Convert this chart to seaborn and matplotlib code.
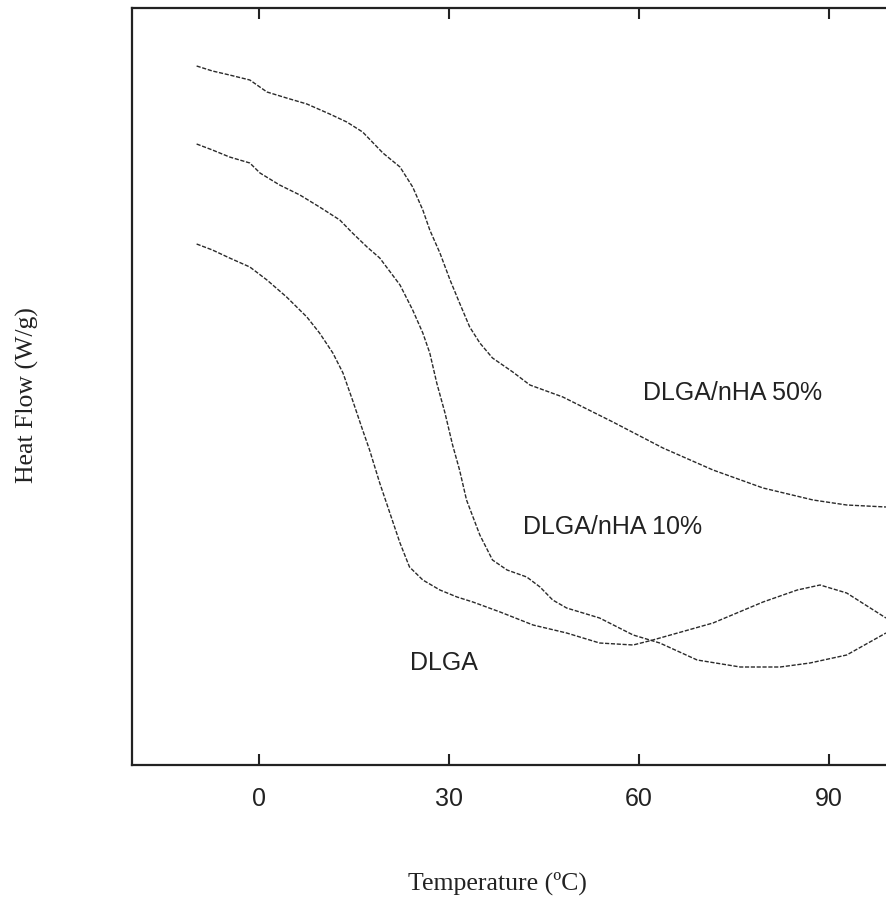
import matplotlib
matplotlib.use("Agg")
import matplotlib.pyplot as plt
import seaborn as sns
import pandas as pd

# Temperature (ºC) and heat flow (arbitrary units, no y ticks in the original)
t_50 = [-9.8, -7.3, -4.6, -1.4, 1.3, 4.4, 7.6, 11.2, 13.9, 16.4, 19.6, 22.3, 24.3, 25.9,
        27.0, 28.6, 30.2, 31.7, 33.3, 34.9, 36.9, 40.1, 42.8, 48.0, 55.9, 63.8, 71.7,
        79.6, 87.5, 92.8, 99.0]
hf_50 = [6.99, 6.94, 6.90, 6.85, 6.73, 6.67, 6.61, 6.51, 6.43, 6.33, 6.12, 5.98, 5.78, 5.55,
         5.35, 5.12, 4.85, 4.62, 4.38, 4.22, 4.07, 3.93, 3.80, 3.68, 3.43, 3.17, 2.95,
         2.77, 2.65, 2.60, 2.58]

t_10 = [-9.8, -7.3, -4.6, -1.4, 0.2, 3.3, 6.5, 9.6, 12.8, 14.8, 17.1, 19.1, 22.3, 24.3,
        25.9, 27.0, 28.1, 29.4, 30.6, 31.7, 32.8, 34.9, 36.9, 39.2, 42.3, 44.4, 46.4,
        48.6, 53.8, 59.1, 63.3, 69.2, 76.0, 82.3, 87.0, 92.8, 99.0]
hf_10 = [6.21, 6.15, 6.08, 6.02, 5.92, 5.80, 5.70, 5.58, 5.45, 5.32, 5.18, 5.07, 4.80, 4.55,
         4.32, 4.12, 3.82, 3.52, 3.20, 2.95, 2.65, 2.30, 2.05, 1.95, 1.88, 1.78, 1.65,
         1.57, 1.47, 1.30, 1.22, 1.05, 0.98, 0.98, 1.02, 1.10, 1.32]

t_dlga = [-9.8, -7.3, -4.6, -1.4, 1.3, 4.4, 7.6, 9.6, 11.7, 13.3, 14.8, 16.4, 17.5, 19.1,
          20.7, 22.3, 23.8, 25.9, 28.6, 31.3, 33.8, 38.1, 43.3, 48.6, 53.8, 59.1, 62.2,
          71.7, 79.6, 85.0, 88.6, 92.8, 99.0]
hf_dlga = [5.21, 5.15, 5.07, 4.98, 4.85, 4.68, 4.48, 4.32, 4.12, 3.92, 3.65, 3.35, 3.15, 2.82,
           2.52, 2.22, 1.98, 1.85, 1.75, 1.68, 1.63, 1.53, 1.40, 1.32, 1.22, 1.20, 1.25,
           1.42, 1.63, 1.75, 1.80, 1.72, 1.47]

series_names = ["DLGA/nHA 50%", "DLGA/nHA 10%", "DLGA"]
label_pos = [(60.6, 3.72), (41.7, 2.38), (23.8, 1.02)]
x_ticks = [0, 30, 60, 90]

sns.set_style("white")
plt.rcParams["font.family"] = ["Liberation Sans", "DejaVu Sans"]

fig = plt.figure(figsize=(8.86, 9.01), dpi=100)
ax = fig.add_axes([132 / 886, 136 / 901, 760.3 / 886, 757 / 901])

for name, t, hf in zip(series_names, [t_50, t_10, t_dlga], [hf_50, hf_10, hf_dlga]):
    df = pd.DataFrame({"T": t, "HF": hf})
    sns.lineplot(data=df, x="T", y="HF", ax=ax, color="#2a2a2a", linewidth=1.0,
                 linestyle=(0, (3, 1.2)), sort=False, estimator=None)

for name, (lx, ly) in zip(series_names, label_pos):
    ax.text(lx, ly, name, fontsize=18, ha="left", va="center", color="#222222")

ax.set_xlim(-20, 100)
ax.set_ylim(0, 7.57)
ax.set_xticks(x_ticks)
ax.set_xticklabels([str(v) for v in x_ticks])
ax.set_yticks([])
ax.tick_params(axis="x", direction="in", length=8, width=1.5, top=True, bottom=True,
               labeltop=False, labelbottom=True, pad=16, labelsize=18, colors="#222222")

for side in ["left", "top", "bottom"]:
    ax.spines[side].set_visible(True)
    ax.spines[side].set_color("#222222")
    ax.spines[side].set_linewidth(1.6)
ax.spines["right"].set_visible(False)

ax.set_xlabel("Temperature (ºC)", fontsize=18.5, family=["Liberation Serif", "DejaVu Serif"],
              va="center", color="#222222")
ax.set_ylabel("Heat Flow (W/g)", fontsize=18.5, family=["Liberation Serif", "DejaVu Serif"],
              va="center", color="#222222")
ax.xaxis.set_label_coords(0.481, -0.156)
ax.yaxis.set_label_coords(-0.137, 0.489)

fig.savefig("out.png", dpi=100)
